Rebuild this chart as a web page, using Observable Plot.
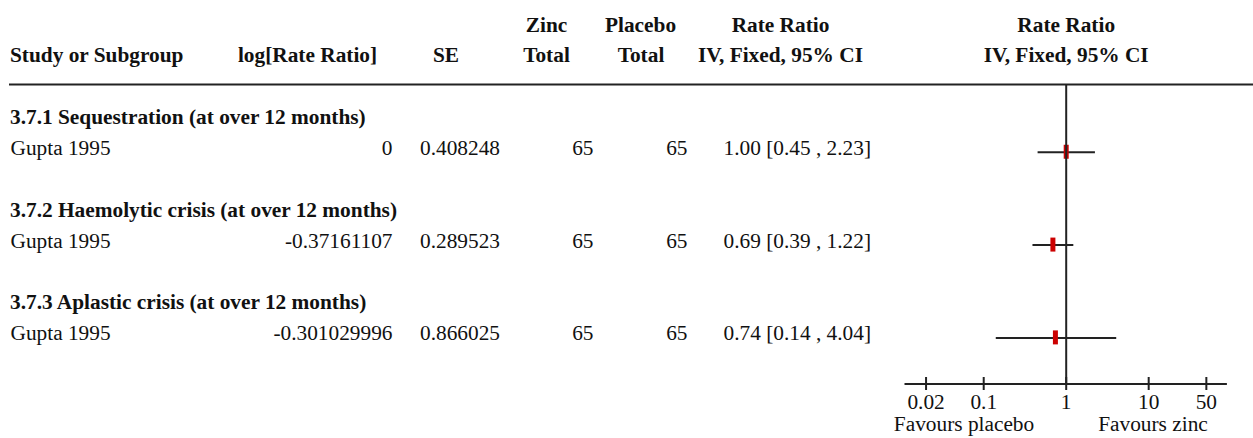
<!DOCTYPE html>
<html>
<head>
<meta charset="utf-8">
<script src="https://cdn.jsdelivr.net/npm/d3@7"></script>
<script src="https://cdn.jsdelivr.net/npm/@observablehq/plot@0.6"></script>
<style>
  html, body { margin: 0; padding: 0; background: #fff; overflow: hidden; }
  #chart svg { display: block; }
</style>
</head>
<body>
<div id="chart"></div>
<script>
// ---- data ----
const subgroups = [
  "3.7.1 Sequestration (at over 12 months)",
  "3.7.2 Haemolytic crisis (at over 12 months)",
  "3.7.3 Aplastic crisis (at over 12 months)"
];
const studies = ["Gupta 1995", "Gupta 1995", "Gupta 1995"];
const logRateRatio = ["0", "-0.37161107", "-0.301029996"];
const seValues = ["0.408248", "0.289523", "0.866025"];
const zincTotal = [65, 65, 65];
const placeboTotal = [65, 65, 65];
const rateRatio = [1.00, 0.69, 0.74];
const ciLow = [0.45, 0.39, 0.14];
const ciHigh = [2.23, 1.22, 4.04];
const axisTicks = [0.02, 0.1, 1, 10, 50];
const favoursLeft = "Favours placebo";
const favoursRight = "Favours zinc";

// ---- layout (row units) ----
const W = 1253, H = 438;
const mTop = 84, mBottom = 54.5, mLeft = 904.5, mRight = 26.1;
const axisRow = 9.68;
const U = (H - mTop - mBottom) / axisRow; // px per row unit
const ROWS_PER_GROUP = 3;
const groupRow = i => ROWS_PER_GROUP * i + 1.27;
const studyRow = i => ROWS_PER_GROUP * i + 2.19;
const studyTextRow = i => ROWS_PER_GROUP * i + 2.27;
const head1Row = -1.69, head2Row = -0.72;
const tickLabelRow = axisRow + 0.8;
const favoursRow = axisRow + 1.53;

const rows = studies.map((s, i) => ({
  subgroup: subgroups[i], study: s, lrr: logRateRatio[i], se: seValues[i],
  zinc: zincTotal[i], placebo: placeboTotal[i],
  rr: rateRatio[i], lo: ciLow[i], hi: ciHigh[i],
  ciText: `${rateRatio[i].toFixed(2)} [${ciLow[i].toFixed(2)} , ${ciHigh[i].toFixed(2)}]`,
  gRow: groupRow(i), sRow: studyRow(i), tRow: studyTextRow(i)
}));

const FONT = "Liberation Serif";
const FS = 21.33;
const INK = "#111";
const LINE = "#222";
const col = px => px - mLeft; // dx offset from the frame's left edge

const txt = (data, opts) => Plot.text(data, {
  frameAnchor: "left", lineAnchor: "bottom", fontFamily: FONT, fontSize: FS, fill: INK, ...opts
});

const headers1 = [
  {t: "Zinc", x: 546}, {t: "Placebo", x: 640}, {t: "Rate Ratio", x: 780}
];
const headers2 = [
  {t: "Study or Subgroup", x: 9.5, a: "start"},
  {t: "log[Rate Ratio]", x: 307, a: "middle"},
  {t: "SE", x: 445.5, a: "middle"},
  {t: "Total", x: 546, a: "middle"},
  {t: "Total", x: 640.5, a: "middle"},
  {t: "IV, Fixed, 95% CI", x: 780, a: "middle"}
];

const marks = [
  // top rule spanning the full table width
  Plot.ruleY([0], {y: d => d, stroke: LINE, strokeWidth: 2, insetLeft: -(mLeft - 9), insetRight: -mRight}),
  // header texts (table columns)
  ...headers1.map(h => txt([h], {y: () => head1Row, text: d => d.t, textAnchor: "middle", dx: col(h.x), fontWeight: "bold"})),
  ...headers2.map(h => txt([h], {y: () => head2Row, text: d => d.t, textAnchor: h.a, dx: col(h.x), fontWeight: "bold"})),
  // forest plot header centered on the null line
  Plot.text(["Rate Ratio"], {x: () => 1, y: () => head1Row, text: d => d, lineAnchor: "bottom", textAnchor: "middle", fontFamily: FONT, fontSize: FS, fontWeight: "bold", fill: INK}),
  Plot.text(["IV, Fixed, 95% CI"], {x: () => 1, y: () => head2Row, text: d => d, lineAnchor: "bottom", textAnchor: "middle", fontFamily: FONT, fontSize: FS, fontWeight: "bold", fill: INK}),
  // subgroup titles
  txt(rows, {y: "gRow", text: "subgroup", textAnchor: "start", dx: col(9.5), fontWeight: "bold"}),
  // study rows
  txt(rows, {y: "tRow", text: "study", textAnchor: "start", dx: col(10)}),
  txt(rows, {y: "tRow", text: "lrr", textAnchor: "end", dx: col(392)}),
  txt(rows, {y: "tRow", text: "se", textAnchor: "start", dx: col(419.5)}),
  txt(rows, {y: "tRow", text: d => String(d.zinc), textAnchor: "end", dx: col(593)}),
  txt(rows, {y: "tRow", text: d => String(d.placebo), textAnchor: "end", dx: col(687)}),
  txt(rows, {y: "tRow", text: "ciText", textAnchor: "start", dx: col(723)}),
  // confidence intervals
  Plot.link(rows, {x1: "lo", x2: "hi", y1: "sRow", y2: "sRow", stroke: LINE, strokeWidth: 2}),
  // point estimate boxes
  Plot.ruleX(rows, {x: "rr", y1: d => d.sRow - 7 / U, y2: d => d.sRow + 7 / U, stroke: "#cc0000", strokeWidth: 5}),
  // null line
  Plot.ruleX([1], {x: d => d, y1: () => 0, y2: () => axisRow, stroke: LINE, strokeWidth: 2}),
  // axis line + ticks + labels
  Plot.ruleY([axisRow], {y: d => d, stroke: LINE, strokeWidth: 2}),
  Plot.ruleX(axisTicks, {x: d => d, y1: () => axisRow - 6.5 / U, y2: () => axisRow + 6.5 / U, stroke: LINE, strokeWidth: 2}),
  Plot.text(axisTicks, {x: d => d, y: () => tickLabelRow, text: d => String(d), lineAnchor: "bottom", textAnchor: "middle", fontFamily: FONT, fontSize: FS, fill: INK}),
  Plot.text([favoursLeft], {x: () => 1, y: () => favoursRow, text: d => d, lineAnchor: "bottom", textAnchor: "end", dx: -32, fontFamily: FONT, fontSize: FS, fill: INK}),
  Plot.text([favoursRight], {x: () => 1, y: () => favoursRow, text: d => d, lineAnchor: "bottom", textAnchor: "start", dx: 32, fontFamily: FONT, fontSize: FS, fill: INK})
];

const chart = Plot.plot({
  width: W,
  height: H,
  marginTop: mTop,
  marginBottom: mBottom,
  marginLeft: mLeft,
  marginRight: mRight,
  style: {fontFamily: FONT, background: "#fff", overflow: "visible"},
  x: {type: "log", domain: [1 / 90, 90], axis: null},
  y: {type: "linear", domain: [0, axisRow], reverse: true, axis: null},
  marks
});
document.getElementById("chart").appendChild(chart);
</script>
</body>
</html>
